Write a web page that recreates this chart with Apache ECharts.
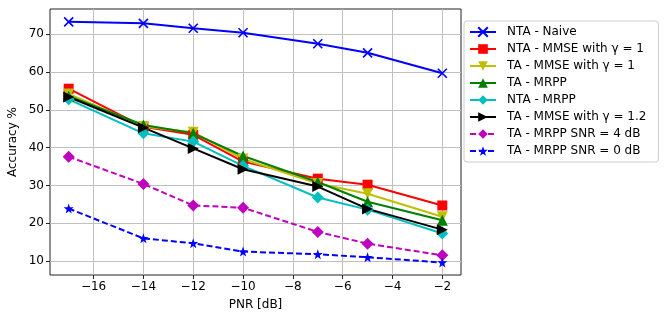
<!DOCTYPE html>
<html>
<head>
<meta charset="utf-8">
<script src="https://cdn.jsdelivr.net/npm/echarts@6/dist/echarts.min.js"></script>
<style>
  html, body { margin: 0; padding: 0; background: #fff; }
</style>
</head>
<body>
<div id="chart" style="width: 665px; height: 322px;"></div>
<script>
// PNR values on the x axis
const pnr = [-17, -14, -12, -10, -7, -5, -2];
const xTicks = [-16, -14, -12, -10, -8, -6, -4, -2];
const yTicks = [10, 20, 30, 40, 50, 60, 70];

// accuracy % per method
const ntaNaive = [73.3, 72.9, 71.6, 70.4, 67.5, 65.1, 59.7];
const ntaMmse1 = [55.6, 45.5, 43.4, 36.3, 31.8, 30.2, 24.7];
const taMmse1 = [54.2, 45.6, 44.1, 37.0, 30.5, 27.8, 21.7];
const taMrpp = [53.6, 46.0, 43.8, 37.8, 30.9, 25.7, 20.8];
const ntaMrpp = [52.8, 43.8, 41.6, 35.2, 26.8, 23.6, 17.3];
const taMmse12 = [53.4, 45.3, 39.8, 34.3, 29.7, 23.8, 18.3];
const taMrppSnr4 = [37.6, 30.4, 24.7, 24.1, 17.7, 14.6, 11.5];
const taMrppSnr0 = [23.9, 16.0, 14.7, 12.5, 11.8, 11.0, 9.6];

const names = [
    'NTA - Naive',
    'NTA - MMSE with γ = 1',
    'TA - MMSE with γ = 1',
    'TA - MRPP',
    'NTA - MRPP',
    'TA - MMSE with γ = 1.2',
    'TA - MRPP SNR = 4 dB',
    'TA - MRPP SNR = 0 dB'
];

const crossPath = 'path://M0,0 L10,10 M10,0 L0,10';
const starPath = 'path://M0,-10 L2.35,-3.24 L9.51,-3.09 L3.8,1.24 L5.88,8.09 L0,4 L-5.88,8.09 L-3.8,1.24 L-9.51,-3.09 L-2.35,-3.24 Z';

function pairs(vals) {
    return pnr.map((x, i) => [x, vals[i]]);
}

function mkSeries(name, vals, color, symbol, size, opts) {
    opts = opts || {};
    return {
        name: name,
        type: 'line',
        data: pairs(vals),
        symbol: symbol,
        symbolSize: size,
        symbolRotate: opts.rotate || 0,
        showAllSymbol: true,
        z: 3,
        lineStyle: {color: color, width: 2, type: opts.dashed ? [6, 3] : 'solid'},
        itemStyle: {color: color, borderColor: color, borderWidth: opts.border || 0}
    };
}

const minus = v => String(v).replace('-', '\u2212');

let myChart = echarts.init(document.getElementById('chart'));
myChart.setOption({
    animation: false,
    textStyle: {fontFamily: 'DejaVu Sans'},
    grid: {
        left: 50,
        top: 9,
        right: 204,
        bottom: 47,
        containLabel: false,
        outerBoundsMode: 'none',
        show: true,
        borderColor: '#222',
        borderWidth: 1,
        backgroundColor: 'transparent'
    },
    legend: {
        orient: 'vertical',
        left: 464,
        top: 21,
        padding: [5, 12, 5, 5],
        itemGap: 5,
        itemWidth: 26,
        itemHeight: 12,
        backgroundColor: '#fff',
        borderColor: '#ccc',
        borderWidth: 1,
        borderRadius: 3,
        textStyle: {fontSize: 12, color: '#000', fontFamily: 'DejaVu Sans', padding: [0, 0, 0, 6]},
        data: names
    },
    xAxis: {
        type: 'value',
        min: -17.75,
        max: -1.25,
        name: 'PNR [dB]',
        nameLocation: 'middle',
        nameGap: 24,
        nameTextStyle: {fontSize: 12, color: '#000'},
        axisLine: {show: false},
        splitLine: {show: false},
        axisTick: {show: true, inside: false, length: 4, customValues: xTicks, lineStyle: {color: '#222'}},
        axisLabel: {customValues: xTicks, fontSize: 12, color: '#000', margin: 6, formatter: minus}
    },
    yAxis: {
        type: 'value',
        min: 6.3,
        max: 76.7,
        name: 'Accuracy %',
        nameLocation: 'middle',
        nameGap: 31,
        nameMoveOverlap: false,
        nameTextStyle: {fontSize: 12, color: '#000'},
        axisLine: {show: false},
        splitLine: {show: false},
        axisTick: {show: true, inside: false, length: 4, customValues: yTicks, lineStyle: {color: '#222'}},
        axisLabel: {customValues: yTicks, fontSize: 12, color: '#000', margin: 6}
    },
    series: [
        {
            type: 'line',
            data: [],
            z: 1,
            silent: true,
            markLine: {
                silent: true,
                z: 1,
                symbol: 'none',
                label: {show: false},
                lineStyle: {color: '#c0c0c0', width: 1, type: 'solid'},
                data: xTicks.map(v => ({xAxis: v})).concat(yTicks.map(v => ({yAxis: v})))
            }
        },
        mkSeries(names[0], ntaNaive, '#0000ff', crossPath, 9, {border: 1.6}),
        mkSeries(names[1], ntaMmse1, '#ff0000', 'rect', 10),
        mkSeries(names[2], taMmse1, '#bfbf00', 'triangle', 11, {rotate: 180}),
        mkSeries(names[3], taMrpp, '#008000', 'triangle', 11),
        mkSeries(names[4], ntaMrpp, '#00bfbf', 'diamond', 12),
        mkSeries(names[5], taMmse12, '#000000', 'triangle', 11, {rotate: -90}),
        mkSeries(names[6], taMrppSnr4, '#bf00bf', 'diamond', 12, {dashed: true}),
        mkSeries(names[7], taMrppSnr0, '#0000ff', starPath, 10, {dashed: true})
    ]
});
</script>
</body>
</html>
